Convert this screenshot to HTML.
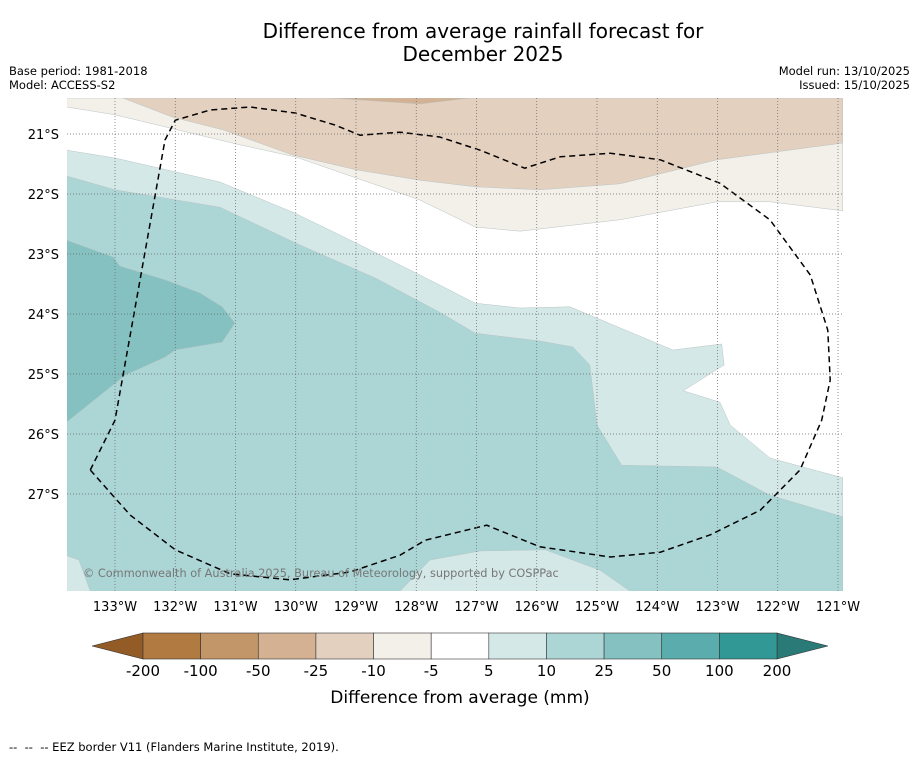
<!DOCTYPE html>
<html><head><meta charset="utf-8"><style>
body{margin:0;background:#fff;font-family:"DejaVu Sans","Liberation Sans",sans-serif;}
svg{display:block}
</style></head><body>
<svg id="chart" width="919" height="758" xmlns="http://www.w3.org/2000/svg" font-family="DejaVu Sans, Liberation Sans, sans-serif">
<rect width="919" height="758" fill="#fff"/>
<text x="483" y="38" font-size="20" text-anchor="middle">Difference from average rainfall forecast for</text>
<text x="483" y="61" font-size="20" text-anchor="middle">December 2025</text>
<text x="9" y="75" font-size="11.5">Base period: 1981-2018</text>
<text x="9" y="89" font-size="11.5">Model: ACCESS-S2</text>
<text x="910" y="75" font-size="11.5" text-anchor="end">Model run: 13/10/2025</text>
<text x="910" y="89" font-size="11.5" text-anchor="end">Issued: 15/10/2025</text>
<defs><clipPath id="mapclip"><rect x="67" y="98" width="776" height="493"/></clipPath></defs>
<g id="map" clip-path="url(#mapclip)"></g>
<g id="grid"></g>
<g id="axes"></g>
<text x="83" y="577" font-size="11.3" fill="#777">© Commonwealth of Australia 2025, Bureau of Meteorology, supported by COSPPac</text>
<g id="cbar"></g>
<text x="460" y="703" font-size="17" text-anchor="middle">Difference from average (mm)</text>
<text x="9" y="751" font-size="11.5">--&#160;&#160;--&#160;&#160;-- EEZ border V11 (Flanders Marine Institute, 2019).</text>
</svg>
<script>
const lonTicks=[-133,-132,-131,-130,-129,-128,-127,-126,-125,-124,-123,-122,-121];
const latTicks=[-21,-22,-23,-24,-25,-26,-27];
const cbLabels=["-200","-100","-50","-25","-10","-5","5","10","25","50","100","200"];
const cbColors=["#b07a40","#c39669","#d4b193","#e3d0bf","#f3efe9","#ffffff","#d5e8e8","#acd5d5","#84c1c0","#5aadac","#329896"];
const brownLight=[[-133.8,-20.4],[-133.8,-20.55],[-133,-20.68],[-130.93,-21.18],[-130.01,-21.38],[-127.94,-22.1],[-127.02,-22.55],[-126.28,-22.62],[-124.62,-22.43],[-123.01,-22.13],[-122.13,-22.13],[-120.92,-22.28],[-120.92,-20.4]];
const brownMid=[[-132.87,-20.4],[-132.04,-20.72],[-131.21,-20.93],[-130.05,-21.35],[-128.98,-21.6],[-127.94,-21.77],[-127.02,-21.88],[-125.95,-21.93],[-124.62,-21.83],[-123.01,-21.43],[-120.92,-21.15],[-120.92,-20.4]];
const brownDark=[[-129.43,-20.4],[-127.94,-20.5],[-127.11,-20.4]];
const teal5=[[-133.8,-21.27],[-133,-21.4],[-131.26,-21.8],[-130.01,-22.32],[-128.93,-22.85],[-127.94,-23.35],[-127.02,-23.82],[-126.28,-23.9],[-125.45,-23.88],[-124.62,-24.23],[-123.74,-24.6],[-122.93,-24.5],[-122.89,-24.85],[-123.57,-25.28],[-122.96,-25.47],[-122.79,-25.85],[-122.13,-26.4],[-120.92,-26.73],[-120.92,-28.62],[-133.8,-28.62]];
const teal10=[[-133.8,-21.7],[-133,-21.93],[-131.26,-22.22],[-129.93,-22.85],[-128.68,-23.4],[-127.61,-23.97],[-127.02,-24.32],[-125.95,-24.45],[-125.4,-24.55],[-125.12,-24.85],[-125,-25.85],[-124.59,-26.52],[-123.01,-26.55],[-122.13,-27.02],[-120.92,-27.38],[-120.92,-28.62],[-124.45,-28.62],[-124.95,-28.27],[-125.86,-27.93],[-126.94,-27.95],[-127.77,-28.1],[-128.27,-28.62],[-133.41,-28.62],[-133.6,-28.1],[-133.8,-28.03]];
const teal25=[[-133.8,-22.77],[-133.03,-23.05],[-132.92,-23.2],[-132.17,-23.43],[-131.59,-23.65],[-131.22,-23.88],[-131.01,-24.15],[-131.22,-24.47],[-132,-24.6],[-132.17,-24.72],[-132.83,-25.02],[-133.8,-25.8]];
const eez=[[-133.41,-26.6],[-133,-25.77],[-132.17,-21.1],[-132,-20.77],[-131.42,-20.6],[-130.76,-20.55],[-130.01,-20.65],[-129.35,-20.85],[-128.93,-21.02],[-128.27,-20.97],[-127.61,-21.05],[-126.94,-21.27],[-126.2,-21.57],[-125.61,-21.38],[-124.78,-21.32],[-123.95,-21.43],[-122.96,-21.82],[-122.13,-22.43],[-121.46,-23.35],[-121.17,-24.27],[-121.13,-25.1],[-121.27,-25.77],[-121.63,-26.6],[-122.29,-27.27],[-123.12,-27.68],[-123.95,-27.97],[-124.78,-28.05],[-125.95,-27.88],[-126.83,-27.52],[-127.85,-27.77],[-128.27,-28.02],[-129.1,-28.3],[-130.1,-28.43],[-131.09,-28.33],[-132,-27.93],[-132.75,-27.35],[-133.41,-26.6]];
const NS="http://www.w3.org/2000/svg";
function X(lon){return 115+(lon+133)*60.25;}
function Y(lat){return 134+(-21-lat)*60;}
function mk(tag,attrs,parent){const e=document.createElementNS(NS,tag);for(const k in attrs)e.setAttribute(k,attrs[k]);parent.appendChild(e);return e;}
function pts(a){return a.map(p=>X(p[0]).toFixed(1)+","+Y(p[1]).toFixed(1)).join(" ");}
const map=document.getElementById('map');
const layers=[[brownLight,"#f3efe9","contour-minus5-to-minus10"],[brownMid,"#e3d0bf","contour-minus10-to-minus25"],[brownDark,"#d4b193","contour-minus25-to-minus50"],[teal5,"#d5e8e8","contour-5-to-10"],[teal10,"#acd5d5","contour-10-to-25"],[teal25,"#84c1c0","contour-25-to-50"]];
layers.forEach(l=>{
 const p=mk('polygon',{points:pts(l[0]),fill:l[1],stroke:"#b8c4c4","stroke-width":0.5},map);
 
 
});
const grid=document.getElementById('grid');
lonTicks.forEach(v=>{
 const ln=mk('line',{x1:X(v),x2:X(v),y1:98,y2:591,stroke:"#666","stroke-width":0.7,"stroke-dasharray":"1,2"},grid);
 
 
});
latTicks.forEach(v=>{
 const ln=mk('line',{x1:67,x2:843,y1:Y(v),y2:Y(v),stroke:"#666","stroke-width":0.7,"stroke-dasharray":"1,2"},grid);
 
 
});
const e=mk('polyline',{points:pts(eez),fill:"none",stroke:"#000","stroke-width":1.5,"stroke-dasharray":"6,4"},map);


const axes=document.getElementById('axes');
lonTicks.forEach(v=>{
 const t=mk('text',{x:X(v),y:611,"font-size":13,"text-anchor":"middle"},axes);
 t.textContent=(-v)+"°W";
 
 
});
latTicks.forEach(v=>{
 const t=mk('text',{x:59,y:Y(v)+5,"font-size":13,"text-anchor":"end"},axes);
 t.textContent=(-v)+"°S";
 
 
});
const cb=document.getElementById('cbar');
const cx0=143,cx1=777,cy0=633,cy1=659,n=cbColors.length,w=(cx1-cx0)/n;
const lt=mk('polygon',{points:`92,646 ${cx0},${cy0} ${cx0},${cy1}`,fill:"#935b25",stroke:"#333","stroke-width":0.6},cb);


const rt=mk('polygon',{points:`828,646 ${cx1},${cy0} ${cx1},${cy1}`,fill:"#2a7a78",stroke:"#333","stroke-width":0.6},cb);


cbColors.forEach((c,i)=>{
 const r=mk('rect',{x:cx0+i*w,y:cy0,width:w,height:cy1-cy0,fill:c,stroke:"#333","stroke-width":0.6},cb);
 
 
});
cbLabels.forEach((s,i)=>{
 const t=mk('text',{x:cx0+i*w,y:676,"font-size":15,"text-anchor":"middle"},cb);
 t.textContent=s;
 
 
});
</script>
</body></html>
